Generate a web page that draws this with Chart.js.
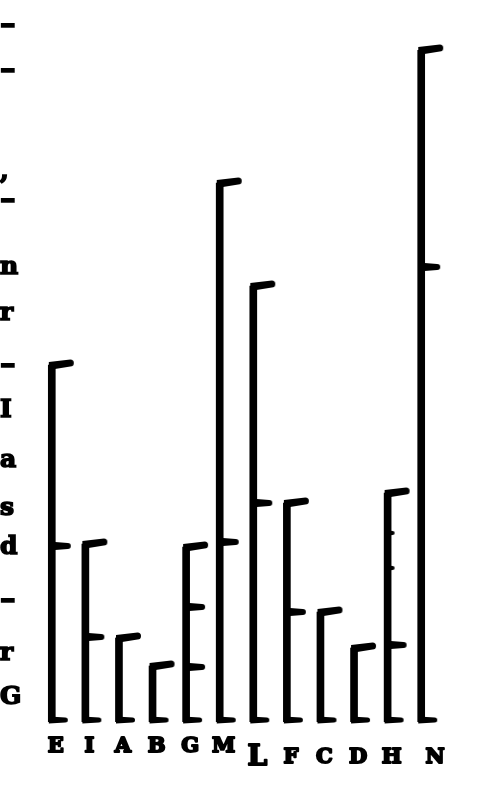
<!DOCTYPE html>
<html><head><meta charset="utf-8">
<script src="https://cdn.jsdelivr.net/npm/chart.js@4"></script>
<style>
html,body{margin:0;padding:0;background:#fff;}
#wrap{position:relative;width:489px;height:812px;overflow:hidden;}
#c{position:absolute;left:0;top:0;}
.m{position:absolute;left:0px;font:bold 25px "DejaVu Serif",serif;color:#000;line-height:1;transform:translateY(-55%);-webkit-text-stroke:1.6px #000;}
.m.d{transform:translateY(-55%) scaleX(1.5);transform-origin:left center;}
</style></head><body>
<div id="wrap"><canvas id="c" width="489" height="812"></canvas><div id="margin"></div></div>
<script>
// Categories (letters under each stem)
const categories = ['E','I','A','B','G','M','L','F','C','D','H','N'];
// Stem heights (units above baseline)
const stemHeights = [357,178,84,56,175,539,436,219,110,74,229,672];
// Intermediate tick marks: which stem, and at what height
const tickCategories = ['E','I','G','G','M','L','F','H','N'];
const tickValues = [176,85,115,55,180,219,110,77,455];
// Small (minor) tick marks
const minorTickCategories = ['H','H'];
const minorTickValues = [189,154];
// Margin letters of the cut-off text column at the left
const marginLetters = ['-','-',',','-','n','r','-','I','a','s','d','-','r','G'];

// margin text (real HTML text)
const marginTops = [25,70,172,200,267,313,365,410,460,508,547,600,653,697];
const mdiv = document.getElementById('margin');
marginLetters.forEach((t,i)=>{const s=document.createElement('div');s.className='m'+(t==='-'?' d':'');s.textContent=t;s.style.top=marginTops[i]+'px';mdiv.appendChild(s);});

function wedge(len, thick, tip, dy, rise){
  const c=document.createElement('canvas');
  c.width=2*len+8; c.height=2*(thick+Math.abs(dy)+Math.abs(rise))+8;
  const g=c.getContext('2d');
  const cx=c.width/2-3, cy=c.height/2+dy;
  g.fillStyle='#000';
  g.beginPath();
  g.moveTo(cx, cy-thick/2);
  const r=tip/2;
  g.lineTo(cx+len-r, cy-rise-r);
  g.arc(cx+len-r, cy-rise, r, -Math.PI/2, Math.PI/2);
  g.lineTo(cx, cy+thick/2);
  g.closePath(); g.fill();
  return c;
}
const flagStyle = wedge(25, 8, 7, 1, 3);
const footStyle = wedge(19, 7, 5, -2, 0);
const tickStyle = wedge(22, 9, 6, 0, 0);
const minorStyle = wedge(10, 6, 4, 0, 0);

const pts = (cats, vals) => cats.map((c,i)=>({x:c, y:vals[i]}));

const labelPlugin = {
  id:'letters',
  afterDatasetsDraw(chart){
    const ctx=chart.ctx, xs=chart.scales.x, base=chart.chartArea.bottom;
    ctx.save(); ctx.fillStyle='#000'; ctx.strokeStyle='#000'; ctx.lineWidth=2; ctx.lineJoin='round';
    ctx.textAlign='center'; ctx.textBaseline='middle';
    categories.forEach((c,i)=>{
      const x=xs.getPixelForValue(i)+4 + (c==='N'?10:0);
      const y=base + (i>=6?36:25);
      ctx.font=(c==='L'?'bold 28px':'bold 21px')+' "DejaVu Serif", serif';
      ctx.fillText(c, x, y);
      ctx.strokeText(c, x, y);
    });
    ctx.restore();
  }
};

new Chart(document.getElementById('c'), {
  type:'bar',
  data:{
    labels:categories,
    datasets:[
      {type:'bar', data:stemHeights, backgroundColor:'#000', barThickness:7, order:5},
      {type:'line', data:pts(categories, stemHeights), showLine:false, pointStyle:flagStyle, clip:false, order:1},
      {type:'line', data:pts(categories, categories.map(()=>0)), showLine:false, pointStyle:footStyle, clip:false, order:1},
      {type:'line', data:pts(tickCategories, tickValues), showLine:false, pointStyle:tickStyle, clip:false, order:1},
      {type:'line', data:pts(minorTickCategories, minorTickValues), showLine:false, pointStyle:minorStyle, clip:false, order:1}
    ]
  },
  options:{
    responsive:false, animation:false, devicePixelRatio:1,
    layout:{padding:{top:50,bottom:90,left:35,right:51}},
    plugins:{legend:{display:false}, tooltip:{enabled:false}},
    scales:{
      x:{display:false, offset:true},
      y:{display:false, min:0, max:672}
    }
  },
  plugins:[labelPlugin]
});
</script>
</body></html>
